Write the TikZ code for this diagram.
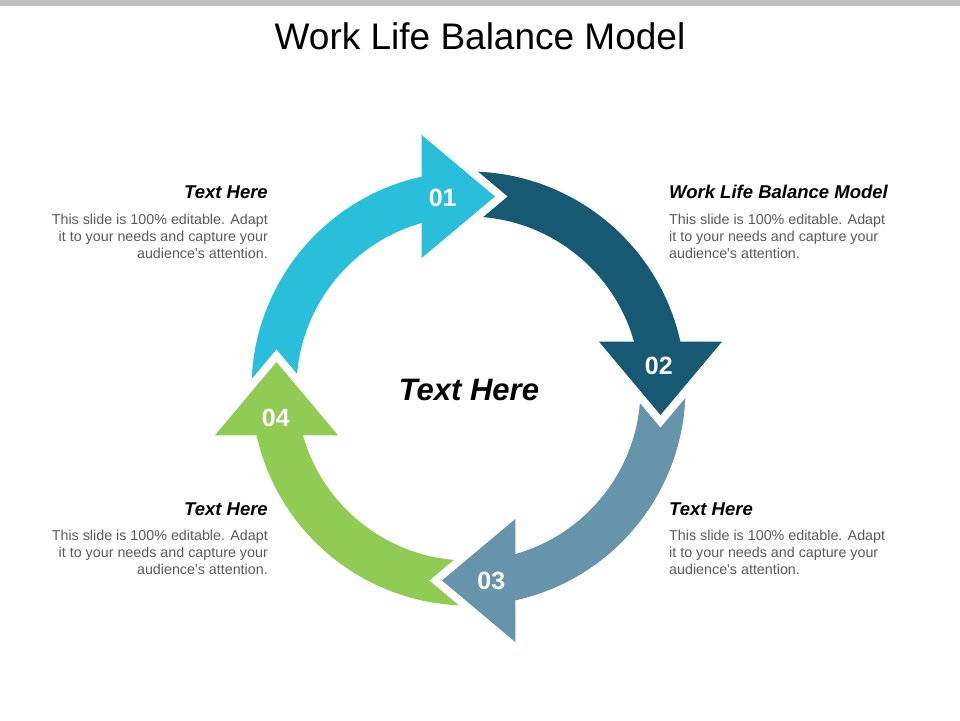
\documentclass[tikz,border=0pt]{standalone}
\usepackage{fontspec}
\setmainfont{Liberation Sans}
\usetikzlibrary{positioning}
\definecolor{barGray}{HTML}{BFBFBF}
\definecolor{arrowCyan}{HTML}{29BED9}
\definecolor{arrowNavy}{HTML}{175873}
\definecolor{arrowSteel}{HTML}{6694AA}
\definecolor{arrowGreen}{HTML}{90CB53}
\definecolor{bodyGray}{HTML}{595959}
\tikzset{
  gap/.style={draw=white, line width=16pt},
  num/.style={text=white, inner sep=0pt, font=\bfseries\fontsize{25}{30}\selectfont},
  head/.style={inner sep=0pt, font=\bfseries\itshape\fontsize{18.5}{22}\selectfont},
  body/.style={inner sep=0pt, text=bodyGray, font=\fontsize{14.3}{17}\selectfont}
}
\begin{document}
\begin{tikzpicture}[x=1pt, y=1pt]
    \useasboundingbox (-468.5,-331.5) rectangle (491.5,388.5);
    \fill[barGray] (-468.5,382) rectangle (491.5,388.5);
    \node[inner sep=0pt, anchor=base, font=\fontsize{37}{44}\selectfont] at (11.5,338.5) (title) {Work Life Balance Model};
    \fill[arrowCyan] (185:217) arc[start angle=185, end angle=100, radius=217] -- (100:172) arc[start angle=100, end angle=185, radius=172] -- cycle;
    \fill[arrowNavy] (95:217) arc[start angle=95, end angle=10, radius=217] -- (10:172) arc[start angle=10, end angle=95, radius=172] -- cycle;
    \fill[arrowSteel] (5:217) arc[start angle=5, end angle=-80, radius=217] -- (-80:172) arc[start angle=-80, end angle=5, radius=172] -- cycle;
    \fill[arrowGreen] (-85:217) arc[start angle=-85, end angle=-170, radius=217] -- (-170:172) arc[start angle=-170, end angle=-85, radius=172] -- cycle;
    \draw[gap] (-46.8,253.5) -- (26.5,192) -- (-46.8,130.5);
    \fill[arrowCyan] (-46.8,253.5) -- (26.5,192) -- (-46.8,130.5) -- cycle;
    \draw[gap, rotate=-90] (-46.8,253.5) -- (26.5,192) -- (-46.8,130.5);
    \fill[arrowNavy, rotate=-90] (-46.8,253.5) -- (26.5,192) -- (-46.8,130.5) -- cycle;
    \draw[gap, rotate=-180] (-46.8,253.5) -- (26.5,192) -- (-46.8,130.5);
    \fill[arrowSteel, rotate=-180] (-46.8,253.5) -- (26.5,192) -- (-46.8,130.5) -- cycle;
    \draw[gap, rotate=90] (-46.8,253.5) -- (26.5,192) -- (-46.8,130.5);
    \fill[arrowGreen, rotate=90] (-46.8,253.5) -- (26.5,192) -- (-46.8,130.5) -- cycle;
    \node[num] at (-25.8,190.2) (n01) {01};
    \node[num] at (190.3,22.5) (n02) {02};
    \node[num] at (22.8,-192.5) (n03) {03};
    \node[num] at (-192.7,-29) (n04) {04};
    \node[inner sep=0pt, font=\bfseries\itshape\fontsize{31}{37}\selectfont] at (0.5,-1.5) (centre) {Text Here};
    \node[head, anchor=base east] at (-200.5,189.5) (headTL) {Text Here};
    \node[body, anchor=base east, align=right] at (-200.5,130.2) (bodyTL) {This slide is 100\% editable.  Adapt\\it to your needs and capture your\\audience\textquotesingle s attention.};
    \node[head, anchor=base west] at (200.5,189.5) (headTR) {Work Life Balance Model};
    \node[body, anchor=base west, align=left] at (200.5,130.2) (bodyTR) {This slide is 100\% editable.  Adapt\\it to your needs and capture your\\audience\textquotesingle s attention.};
    \node[head, anchor=base east] at (-200.5,-127.2) (headBL) {Text Here};
    \node[body, anchor=base east, align=right] at (-200.5,-185.8) (bodyBL) {This slide is 100\% editable.  Adapt\\it to your needs and capture your\\audience\textquotesingle s attention.};
    \node[head, anchor=base west] at (200.5,-127.2) (headBR) {Text Here};
    \node[body, anchor=base west, align=left] at (200.5,-185.8) (bodyBR) {This slide is 100\% editable.  Adapt\\it to your needs and capture your\\audience\textquotesingle s attention.};
\end{tikzpicture}
\end{document}
